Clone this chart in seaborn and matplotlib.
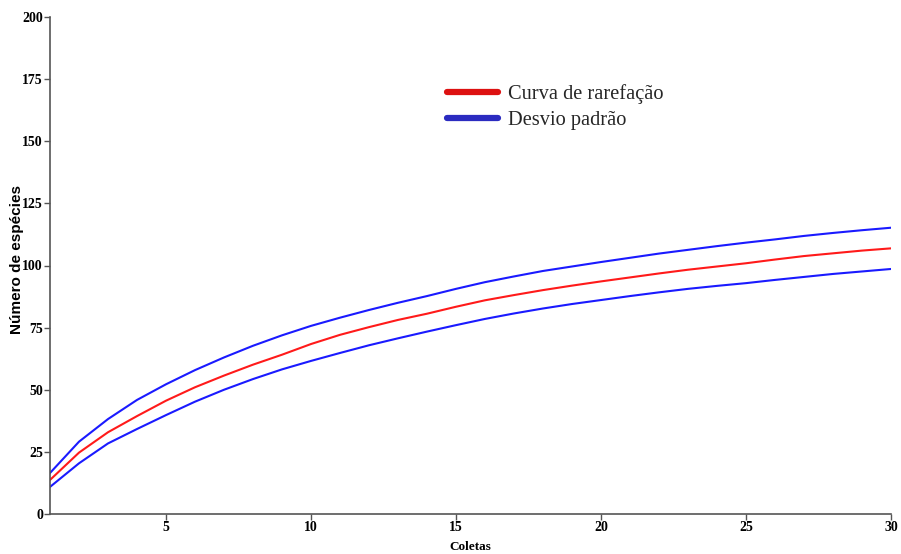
import matplotlib
matplotlib.use("Agg")
import matplotlib.pyplot as plt
from matplotlib.lines import Line2D
import seaborn as sns
import pandas as pd

coletas = list(range(1, 31))
curva = [13.7, 24.7, 32.9, 39.4, 45.6, 51.0, 55.7, 60.1, 64.1, 68.4,
         72.1, 75.2, 78.1, 80.6, 83.4, 86.0, 88.1, 90.1, 91.9, 93.6,
         95.2, 96.8, 98.3, 99.6, 100.9, 102.4, 103.8, 104.9, 106.0, 106.9]
superior = [16.5, 29.1, 38.2, 45.9, 52.2, 57.9, 63.0, 67.7, 71.9, 75.7,
            79.0, 82.1, 85.0, 87.7, 90.6, 93.3, 95.6, 97.8, 99.6, 101.4,
            103.1, 104.8, 106.3, 107.8, 109.2, 110.5, 111.9, 113.1, 114.2, 115.2]
inferior = [10.9, 20.4, 28.4, 34.2, 39.8, 45.2, 50.0, 54.3, 58.2, 61.6,
            64.8, 67.9, 70.7, 73.4, 76.0, 78.5, 80.7, 82.7, 84.5, 86.1,
            87.7, 89.2, 90.6, 91.8, 92.9, 94.2, 95.4, 96.6, 97.6, 98.6]

x_ticks = [5, 10, 15, 20, 25, 30]
y_ticks = [0, 25, 50, 75, 100, 125, 150, 175, 200]

df = pd.DataFrame({
    "Coletas": coletas * 3,
    "valor": curva + superior + inferior,
    "serie": ["curva"] * 30 + ["sup"] * 30 + ["inf"] * 30,
})

sns.set_theme(style="white")
plt.rcParams["font.family"] = ["Liberation Serif", "DejaVu Serif"]

fig = plt.figure(figsize=(9.01, 5.54), dpi=100)
ax = fig.add_axes([50 / 901, 40 / 554, 841 / 901, 497 / 554])

palette = {"curva": "#ff1a1a", "sup": "#1a1aff", "inf": "#1a1aff"}
sns.lineplot(data=df, x="Coletas", y="valor", hue="serie", palette=palette,
             legend=False, linewidth=1.5, ax=ax)

ax.set_xlim(1, 30)
ax.set_ylim(0, 200)
ax.set_xticks(x_ticks)
ax.set_yticks(y_ticks)
ax.set_xticklabels([str(t) for t in x_ticks], fontsize=10, fontweight="bold",
                   family=["Liberation Serif"])
ax.set_yticklabels([str(t) for t in y_ticks], fontsize=10, fontweight="bold",
                   family=["Liberation Serif"])

for side in ["top", "right"]:
    ax.spines[side].set_visible(False)
for side in ["left", "bottom"]:
    ax.spines[side].set_color("#555555")
    ax.spines[side].set_linewidth(1.2)
ax.tick_params(axis="both", direction="out", length=4, width=1, color="#555555",
               pad=1, bottom=True, left=True, labelcolor="black")

ax.set_xlabel("Coletas", fontsize=9.5, fontweight="bold", color="black",
              family=["Liberation Serif"], labelpad=5)
ax.set_ylabel("Número de espécies", fontsize=11, fontweight="bold", color="black",
              family=["Liberation Sans", "DejaVu Sans"])
ax.yaxis.set_label_coords(-0.031, 0.513)

handles = [Line2D([], [], color="#dd1111", linewidth=4.5),
           Line2D([], [], color="#2b2bc0", linewidth=4.5)]
ax.legend(handles, ["Curva de rarefação", "Desvio padrão"], loc="upper left",
          bbox_to_anchor=(0.46, 0.885), frameon=False,
          handlelength=2.5, handletextpad=0.5, labelspacing=0.3, borderpad=0,
          prop={"family": ["Liberation Serif"], "size": 14.7})

fig.savefig("out.png", dpi=100)
